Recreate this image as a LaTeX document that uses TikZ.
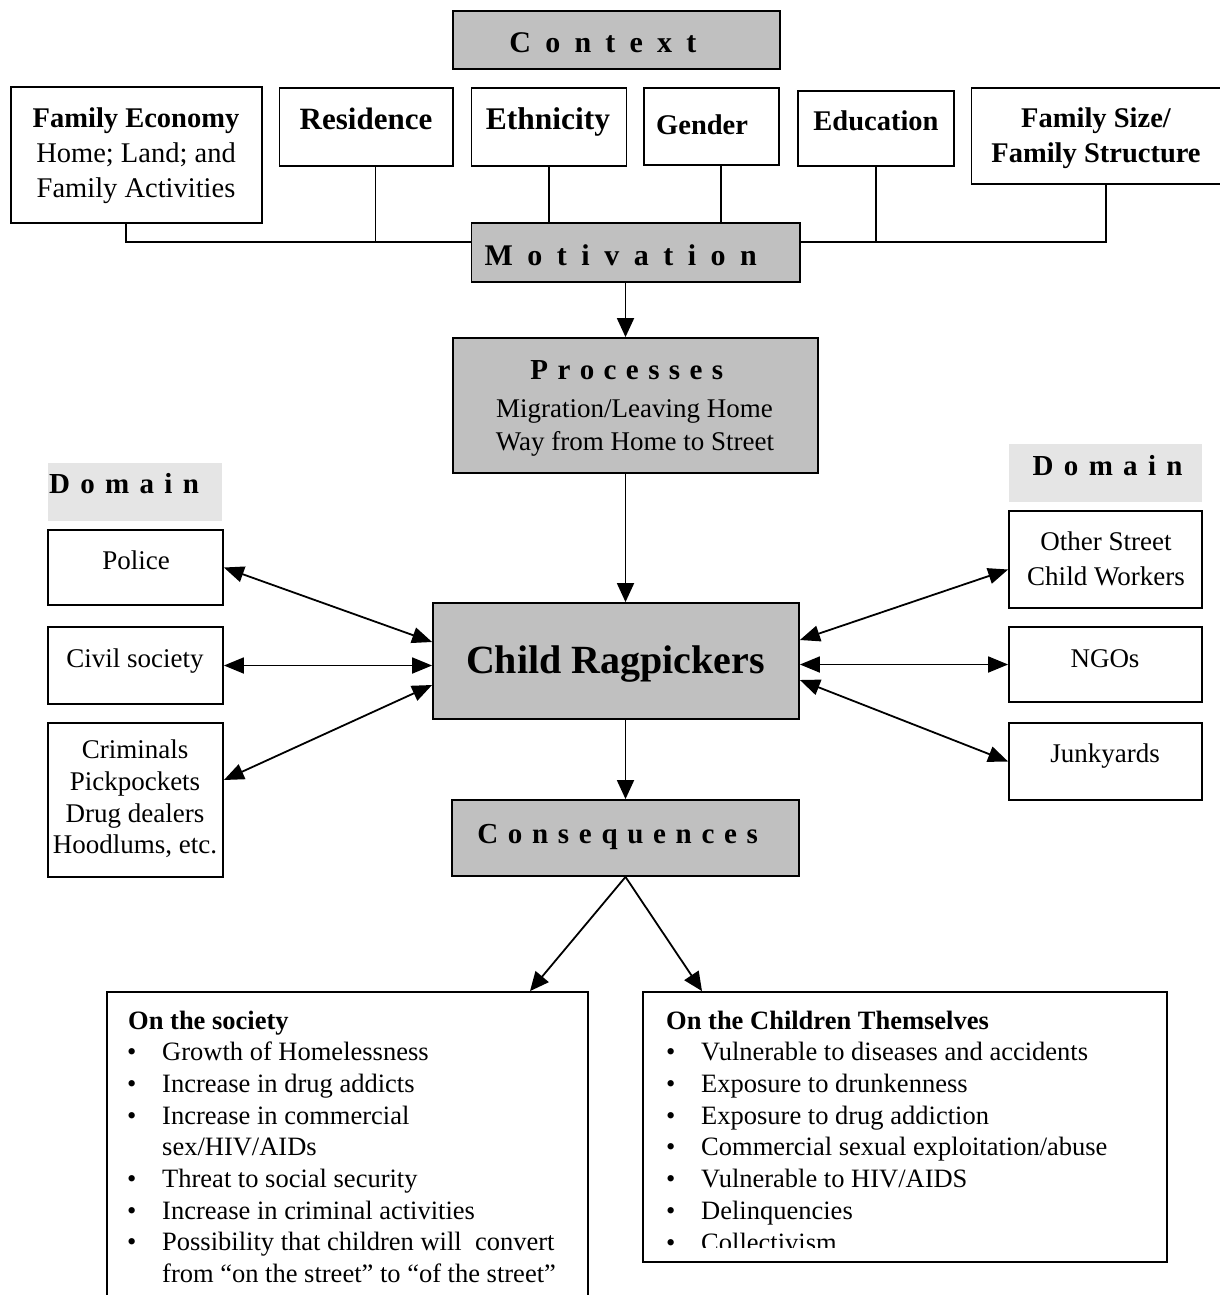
\documentclass[tikz,border=0pt]{standalone}
\usepackage{fontspec}
\setmainfont{Liberation Serif}
\usetikzlibrary{arrows.meta}
\definecolor{boxgray}{RGB}{192,192,192}
\definecolor{domgray}{RGB}{229,229,229}
\newcommand\spgap{}
\newcommand\lspaced[2]{\def\spgap{#1}\lspacedaux#2\relax}
\def\lspacedaux#1{\ifx#1\relax\hspace{-\spgap}\else#1\hspace{\spgap}\expandafter\lspacedaux\fi}
\newcommand\bul[4]{%
  \node[lt, anchor=base west] (#1b) at (#2,#3) {\textbullet};
  \node[lt, anchor=base west] (#1) at ({#2+35},#3) {#4};}
\begin{document}
\begin{tikzpicture}[x=1pt,y=-1pt,
  box/.style={draw, line width=1.8pt, inner sep=0, rectangle},
  gbox/.style={box, fill=boxgray},
  t/.style={inner sep=0, font=\fontsize{27}{32}\selectfont, anchor=base},
  ttop/.style={inner sep=0, font=\fontsize{28.5}{34}\selectfont, anchor=base},
  tb/.style={inner sep=0, font=\fontsize{28.5}{34}\selectfont\bfseries, anchor=base},
  lt/.style={inner sep=0, font=\fontsize{26.5}{31.7}\selectfont},
  ltb/.style={inner sep=0, font=\fontsize{26.5}{31.7}\selectfont\bfseries, anchor=base west},
  arr/.style={line width=1.8pt, -{Triangle[length=19pt,width=17pt]}},
  darr/.style={line width=1.8pt, {Triangle[length=20pt,width=16pt]}-{Triangle[length=20pt,width=16pt]}},
  conn/.style={line width=1.8pt}]
\useasboundingbox (0,0) rectangle (1219,1295);

% ---- boxes ----
\node[gbox, minimum width=327pt, minimum height=58pt] (ctx) at (616.5,40) {};
\node[box, minimum width=251pt, minimum height=136pt] (fe) at (136.2,155) {};
\node[box, minimum width=173.5pt, minimum height=78pt] (res) at (366.25,127) {};
\node[box, minimum width=155pt, minimum height=78pt] (eth) at (549,127) {};
\node[box, minimum width=135pt, minimum height=77pt] (gen) at (711.5,126.5) {};
\node[box, minimum width=156pt, minimum height=75pt] (edu) at (876,128.5) {};
\node[box, minimum width=269pt, minimum height=96pt] (fs) at (1106,136) {};
\node[gbox, minimum width=328.5pt, minimum height=59pt] (motiv) at (635.75,252.5) {};
\node[gbox, minimum width=365pt, minimum height=135pt] (proc) at (635.5,405.5) {};
\node[gbox, minimum width=366pt, minimum height=116pt] (rag) at (616,661) {};
\node[gbox, minimum width=347pt, minimum height=76pt] (cons) at (625.5,838) {};
\node[fill=domgray, inner sep=0, minimum width=174pt, minimum height=58pt] (domL) at (135,492) {};
\node[box, minimum width=175pt, minimum height=75pt] (pol) at (135.5,567.5) {};
\node[box, minimum width=175pt, minimum height=77pt] (civ) at (135.5,665.5) {};
\node[box, minimum width=175pt, minimum height=154pt] (crim) at (135.5,800) {};
\node[fill=domgray, inner sep=0, minimum width=193pt, minimum height=58pt] (domR) at (1105.5,473) {};
\node[box, minimum width=193pt, minimum height=97pt] (oth) at (1105.5,559.5) {};
\node[box, minimum width=193pt, minimum height=75pt] (ngo) at (1105.5,664.5) {};
\node[box, minimum width=193pt, minimum height=77pt] (junk) at (1105.5,761.5) {};
\node[box, minimum width=481pt, minimum height=318pt] (soc) at (347.5,1151) {};
\node[box, minimum width=524pt, minimum height=270pt] (chi) at (905,1127) {};

% ---- top connectors ----
\coordinate (busL) at ([yshift=10.5pt]motiv.west);
\coordinate (busR) at ([yshift=10.5pt]motiv.east);
\coordinate (fed) at ([xshift=-10.3pt]fe.south);
\coordinate (resd) at ([xshift=9.3pt]res.south);
\coordinate (gend) at ([xshift=9.5pt]gen.south);
\draw[conn] (fed) |- (busL);
\draw[conn] (resd) -- (resd |- busL);
\draw[conn] (eth.south) -- (eth.south |- motiv.north);
\draw[conn] (gend) -- (gend |- motiv.north);
\draw[conn] (edu.south) |- (busR);
\draw[conn] (fs.south) |- (busR);

% ---- vertical spine ----
\coordinate (spine) at (625.5,0);
\draw[arr] (motiv.south -| spine) -- (proc.north -| spine);
\draw[arr] (proc.south -| spine) -- (rag.north -| spine);
\draw[arr] (rag.south -| spine) -- (cons.north -| spine);

% ---- domain arrows ----
\draw[darr] (pol.east) -- ([yshift=19pt]rag.west);
\draw[darr] (civ.east) -- (civ.east -| rag.west);
\draw[darr] ([yshift=20pt]crim.east) -- ([yshift=-24pt]rag.west);
\draw[darr] ([yshift=21pt]rag.east) -- ([yshift=-10pt]oth.west);
\draw[darr] (ngo.west -| rag.east) -- (ngo.west);
\draw[darr] ([yshift=-19pt]rag.east) -- (junk.west);

% ---- consequence arrows ----
\draw[arr] (cons.south) -- ([xshift=182.5pt]soc.north);
\draw[arr] (cons.south) -- ([xshift=-203pt]chi.north);

% ---- texts ----
\node[tb, font=\fontsize{30}{36}\selectfont\bfseries] (ctxt) at (610,53) {\lspaced{14.2pt}{Context}};
\node[tb] (fe1) at (136,128) {Family Economy};
\node[ttop] (fe2) at (136,162) {Home; Land; and};
\node[ttop] (fe3) at (136,197) {Family Activities};
\node[tb, font=\fontsize{31}{36}\selectfont\bfseries] (rest) at (366,130) {Residence};
\node[tb, font=\fontsize{31.5}{36}\selectfont\bfseries] (etht) at (548,130) {Ethnicity};
\node[tb, anchor=base west] (gent) at (656,135) {Gender};
\node[tb] (edut) at (876,131) {Education};
\node[tb] (fs1) at (1096,128) {Family Size/};
\node[tb] (fs2) at (1096,162) {Family Structure};
\node[tb, font=\fontsize{30}{36}\selectfont\bfseries] (motivt) at (628,265) {\lspaced{14.5pt}{Motivation}};
\node[tb, font=\fontsize{29}{34}\selectfont\bfseries] (proct) at (631.5,379) {\lspaced{9.4pt}{Processes}};
\node[t] (proc1) at (634.5,417) {Migration/Leaving Home};
\node[t] (proc2) at (635,450) {Way from Home to Street};
\node[tb, font=\fontsize{40}{46}\selectfont\bfseries] (ragt) at (615.5,673) {Child Ragpickers};
\node[tb, font=\fontsize{29}{34}\selectfont\bfseries] (const) at (622.5,843) {\lspaced{9.7pt}{Consequences}};
\node[tb, font=\fontsize{29}{34}\selectfont\bfseries, anchor=base west] (domLt) at (49,493) {\lspaced{10.3pt}{Domain}};
\node[tb, font=\fontsize{29}{34}\selectfont\bfseries, anchor=base east] (domRt) at (1193,475) {\lspaced{10.3pt}{Domain}};
\node[t] (polt) at (136,569) {Police};
\node[t] (civt) at (135,667) {Civil society};
\node[t] (cr1) at (135,758) {Criminals};
\node[t] (cr2) at (135,790.5) {Pickpockets};
\node[t] (cr3) at (135,822) {Drug dealers};
\node[t] (cr4) at (135,853) {Hoodlums, etc.};
\node[t] (oth1) at (1106,550) {Other Street};
\node[t] (oth2) at (1106,585) {Child Workers};
\node[t] (ngot) at (1105,667) {NGOs};
\node[t] (junkt) at (1105,762) {Junkyards};

% ---- society list ----
\node[ltb] (soch) at (128,1029) {On the society};
\bul{s1}{127}{1060}{Growth of Homelessness}
\bul{s2}{127}{1092}{Increase in drug addicts}
\bul{s3}{127}{1124}{Increase in commercial}
\node[lt, anchor=base west] (s3b2) at (162,1155) {sex/HIV/AIDs};
\bul{s4}{127}{1187}{Threat to social security}
\bul{s5}{127}{1219}{Increase in criminal activities}
\bul{s6}{127}{1250}{Possibility that children will\ \ convert}
\node[lt, anchor=base west] (s6b2) at (162,1282) {from “on the street” to “of the street”};

% ---- children list ----
\begin{scope}
\clip (643,992) rectangle (1167,1247);
\node[ltb] (chih) at (666,1029) {On the Children Themselves};
\bul{c1}{666}{1060}{Vulnerable to diseases and accidents}
\bul{c2}{666}{1092}{Exposure to drunkenness}
\bul{c3}{666}{1124}{Exposure to drug addiction}
\bul{c4}{666}{1155}{Commercial sexual exploitation/abuse}
\bul{c5}{666}{1187}{Vulnerable to HIV/AIDS}
\bul{c6}{666}{1219}{Delinquencies}
\bul{c7}{666}{1251}{Collectivism}
\end{scope}
\end{tikzpicture}
\end{document}
